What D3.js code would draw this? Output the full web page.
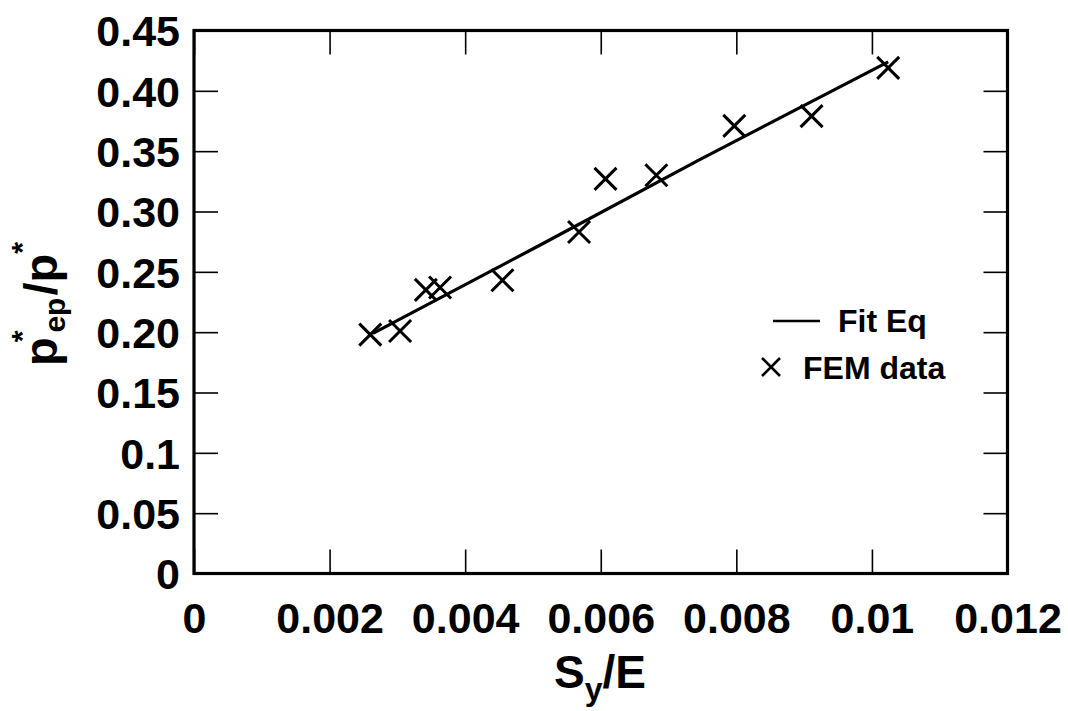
<!DOCTYPE html>
<html><head><meta charset="utf-8">
<script src="https://cdn.jsdelivr.net/npm/d3@7"></script>
<style>
html,body{margin:0;padding:0;background:#fff;}
text{font-family:"Liberation Sans",Arial,Helvetica,sans-serif;font-weight:bold;fill:#000;}
</style></head>
<body>
<svg id="chart" width="1068" height="711"></svg>
<script>
// Data
const femX = [0.00260, 0.00304, 0.00342, 0.00363, 0.00455, 0.00568, 0.00607, 0.00682, 0.00797, 0.00911, 0.01024];
const femY = [0.198, 0.201, 0.235, 0.237, 0.243, 0.283, 0.327, 0.330, 0.371, 0.379, 0.419];
const fitX = [0.00264, 0.00510, 0.00746, 0.01024];
const fitY = [0.199, 0.272, 0.343, 0.424];
const xTicks = [0, 0.002, 0.004, 0.006, 0.008, 0.01, 0.012];
const xTickLabels = ["0", "0.002", "0.004", "0.006", "0.008", "0.01", "0.012"];
const yTicks = [0, 0.05, 0.1, 0.15, 0.2, 0.25, 0.3, 0.35, 0.4, 0.45];
const yTickLabels = ["0", "0.05", "0.1", "0.15", "0.20", "0.25", "0.30", "0.35", "0.40", "0.45"];
const legendLabels = ["Fit Eq", "FEM data"];

const svg = d3.select("#chart");
const L = 194, R = 1007.5, T = 30.5, B = 573.5;
const x = d3.scaleLinear().domain([0, 0.012]).range([L, R]);
const y = d3.scaleLinear().domain([0, 0.45]).range([B, T]);
const tickLen = 24;

// ticks on all four sides (inward)
const gB = svg.append("g").attr("transform", `translate(0,${B})`)
  .call(d3.axisBottom(x).tickValues(xTicks).tickSize(-tickLen).tickFormat((d,i)=>xTickLabels[i]).tickPadding(20));
const gT = svg.append("g").attr("transform", `translate(0,${T})`)
  .call(d3.axisTop(x).tickValues(xTicks).tickSize(-tickLen).tickFormat(""));
const gL = svg.append("g").attr("transform", `translate(${L},0)`)
  .call(d3.axisLeft(y).tickValues(yTicks).tickSize(-tickLen).tickFormat((d,i)=>yTickLabels[i]).tickPadding(14));
const gR = svg.append("g").attr("transform", `translate(${R},0)`)
  .call(d3.axisRight(y).tickValues(yTicks).tickSize(-tickLen).tickFormat(""));
[gB,gT,gL,gR].forEach(g=>{
  g.select(".domain").remove();
  g.selectAll(".tick line").attr("stroke","#000").attr("stroke-width",1.6);
  g.selectAll(".tick text").style("font-size","43px").attr("fill","#000")
    .style("font-family","'Liberation Sans',Arial,sans-serif").style("font-weight","bold");
});
gB.selectAll(".tick text").attr("dy","0.93em");
gL.selectAll(".tick text").attr("dy","0.36em");

// frame
svg.append("rect").attr("x",L).attr("y",T).attr("width",R-L).attr("height",B-T)
  .attr("fill","none").attr("stroke","#000").attr("stroke-width",3.2);

// fit line
const fitData = fitX.map((d,i)=>[d, fitY[i]]);
svg.append("path").datum(fitData)
  .attr("d", d3.line().x(d=>x(d[0])).y(d=>y(d[1])))
  .attr("fill","none").attr("stroke","#000").attr("stroke-width",3.2);

// markers
function cross(g, cx, cy, s, sw){
  g.append("path").attr("d",`M${cx-s},${cy-s}L${cx+s},${cy+s}M${cx-s},${cy+s}L${cx+s},${cy-s}`)
   .attr("stroke","#000").attr("stroke-width",sw).attr("fill","none");
}
const gm = svg.append("g");
femX.forEach((d,i)=>cross(gm, x(d), y(femY[i]), 11, 3));

// legend
svg.append("line").attr("x1",773).attr("x2",820).attr("y1",321).attr("y2",321)
  .attr("stroke","#000").attr("stroke-width",2.6);
svg.append("text").attr("x",838).attr("y",332).style("font-size","32px").text(legendLabels[0]);
cross(svg, 771, 367, 9, 2.6);
svg.append("text").attr("x",803).attr("y",378.5).style("font-size","32px").text(legendLabels[1]);

// x title
const xt = svg.append("text").attr("x",600).attr("y",688).attr("text-anchor","middle").style("font-size","46px");
xt.append("tspan").text("S");
xt.append("tspan").attr("dy",12).style("font-size","32px").text("y");
xt.append("tspan").attr("dy",-12).text("/E");

// y title
const yt = svg.append("text").attr("transform","translate(57,366) rotate(-90)").style("font-size","47px");
yt.append("tspan").text("p");
yt.append("tspan").attr("dx",-5).attr("dy",-25).style("font-size","30px").text("*");
yt.append("tspan").attr("dx",-2).attr("dy",33).style("font-size","30px").text("ep");
yt.append("tspan").attr("dx",2).attr("dy",-8).text("/p");
yt.append("tspan").attr("dy",-25).style("font-size","30px").text("*");
</script>
</body></html>
